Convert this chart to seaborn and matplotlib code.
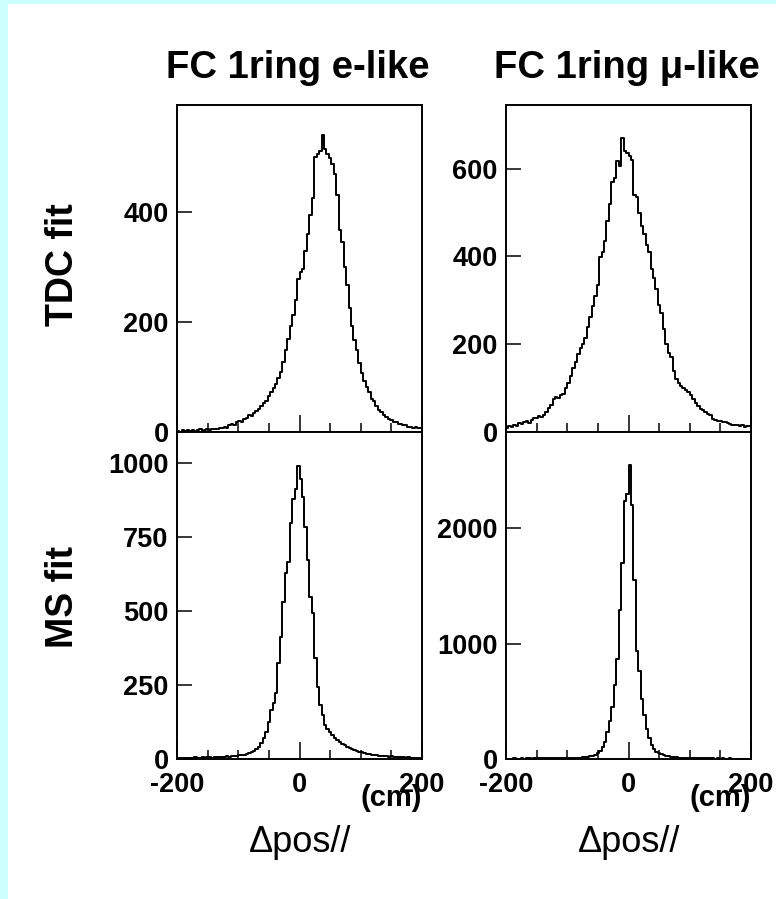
import numpy as np
import pandas as pd
import seaborn as sns
import matplotlib
matplotlib.use("Agg")
import matplotlib.pyplot as plt
from matplotlib.ticker import MultipleLocator, FixedLocator
from matplotlib.patches import Rectangle

# ---------------- data (100 bins of 4 cm, -200..200) ----------------
bin_edges = list(range(-200, 201, 4))
bin_centers = list(range(-198, 199, 4))

tdc_e = [2, 0, 3, 2, 4, 1, 3, 2, 3, 5,
         2, 4, 5, 4, 5, 6, 5, 8, 7, 9,
         8, 12, 14, 13, 18, 20, 19, 24, 26, 31,
         30, 35, 38, 42, 47, 52, 57, 66, 72, 80,
         88, 98, 110, 128, 150, 170, 192, 212, 240, 278,
         292, 296, 330, 360, 395, 425, 500, 505, 512, 540,
         515, 505, 498, 488, 470, 432, 368, 345, 300, 268,
         225, 193, 168, 150, 126, 108, 92, 82, 72, 60,
         56, 48, 40, 36, 31, 28, 24, 21, 19, 18,
         15, 14, 12, 13, 10, 9, 8, 10, 7, 8]

tdc_mu = [10, 14, 12, 16, 13, 20, 18, 22, 24, 21,
          28, 31, 33, 36, 34, 38, 45, 55, 62, 75,
          80, 78, 84, 86, 100, 112, 128, 145, 160, 178,
          192, 200, 215, 240, 262, 288, 310, 335, 398, 410,
          436, 480, 520, 570, 578, 618, 605, 670, 640, 635,
          628, 620, 540, 535, 500, 470, 450, 425, 410, 372,
          350, 325, 290, 270, 235, 200, 180, 170, 140, 120,
          112, 105, 100, 95, 90, 85, 75, 66, 60, 52,
          50, 45, 42, 38, 30, 27, 25, 24, 22, 23,
          20, 18, 16, 17, 15, 14, 16, 12, 13, 14]

ms_e = [4, 3, 5, 4, 3, 5, 4, 6, 5, 4,
        6, 5, 7, 6, 5, 7, 6, 8, 7, 8,
        9, 8, 10, 9, 11,
        12, 13, 15, 17, 20, 24, 28, 34, 42, 55,
        72, 92, 125, 165, 188, 222, 323, 413, 531, 627,
        667, 796, 880, 914, 990, 945, 886, 785, 672, 548,
        492, 340, 244, 182, 150, 115, 100, 90, 80, 72,
        65, 58, 52, 46, 42, 38, 33, 30, 27, 24,
        22, 20, 18, 16, 15, 14, 12, 11, 10, 10,
        9, 8, 9, 7, 8, 6, 7, 6, 5, 6,
        5, 4, 5, 4, 5]

ms_mu = [3, 4, 3, 5, 4, 3, 5, 4, 6, 5,
         4, 6, 5, 7, 6, 5, 7, 6, 8, 7,
         8, 7, 9, 8, 10,
         9, 11, 10, 12, 11, 13, 15, 17, 20, 24,
         30, 38, 50, 70, 100, 150, 235, 330, 450, 640,
         870, 1290, 1700, 2240, 2300, 2548, 2200, 1550, 940, 765,
         520, 380, 260, 180, 120, 85, 62, 48, 40, 34,
         28, 24, 20, 18, 15, 13, 12, 10, 11, 9,
         8, 9, 7, 8, 6, 7, 6, 5, 6, 5,
         4, 5, 4, 5, 3, 4, 5, 3, 4, 3,
         4, 3, 4, 3, 4]

col_titles = ["FC 1ring e-like", "FC 1ring \u03bc-like"]
row_titles = ["TDC fit", "MS fit"]
x_ticks = [-200, 0, 200]
y_ticks = {(0, 0): [0, 200, 400], (0, 1): [0, 200, 400, 600],
           (1, 0): [0, 250, 500, 750, 1000], (1, 1): [0, 1000, 2000]}
y_lims = {(0, 0): 595, (0, 1): 745, (1, 0): 1105, (1, 1): 2835}
series = {(0, 0): tdc_e, (0, 1): tdc_mu, (1, 0): ms_e, (1, 1): ms_mu}
x_label = "\u0394pos//"
x_unit = "(cm)"

# ---------------- figure ----------------
sns.set_style("white")
plt.rcParams['font.family'] = ['Liberation Sans', 'DejaVu Sans']
plt.rcParams['axes.unicode_minus'] = False
plt.rcParams['text.color'] = 'black'
plt.rcParams['xtick.color'] = 'black'
plt.rcParams['ytick.color'] = 'black'
plt.rcParams['axes.labelcolor'] = 'black'

W, H = 776, 899
fig = plt.figure(figsize=(W / 100, H / 100), dpi=100)
fig.patch.set_facecolor("white")

# cyan frame (left and top)
fig.patches.append(Rectangle((0, 0), 8 / W, 1, transform=fig.transFigure,
                             facecolor="#ccffff", edgecolor="none", zorder=0))
fig.patches.append(Rectangle((0, 1 - 4 / H), 1, 4 / H, transform=fig.transFigure,
                             facecolor="#ccffff", edgecolor="none", zorder=0))

ax_left = [177, 506]
ax_top = [105, 432]
ax_w, ax_h = 245, 327
tick_fs = 19.5

for r in range(2):
    for c in range(2):
        ax = fig.add_axes([ax_left[c] / W, 1 - (ax_top[r] + ax_h) / H, ax_w / W, ax_h / H])
        df = pd.DataFrame({"x": bin_centers, "w": series[(r, c)]})
        sns.histplot(data=df, x="x", weights="w", bins=bin_edges, element="step",
                     fill=False, color="black", linewidth=1.4, ax=ax)
        ax.set_xlim(-200, 200)
        ax.set_ylim(0, y_lims[(r, c)])
        ax.set_xlabel("")
        ax.set_ylabel("")
        ax.xaxis.set_major_locator(FixedLocator(x_ticks))
        ax.xaxis.set_minor_locator(MultipleLocator(50))
        ax.yaxis.set_major_locator(FixedLocator(y_ticks[(r, c)]))
        ax.tick_params(axis="x", which="major", direction="in", length=12, width=1.1,
                       pad=9, labelsize=tick_fs, bottom=True, top=False,
                       colors="black")
        ax.tick_params(axis="x", which="minor", direction="in", length=6.5, width=1.1,
                       bottom=True, top=False, colors="black")
        ax.tick_params(axis="y", which="major", direction="in", length=11, width=1.1,
                       pad=6, labelsize=tick_fs, left=True, right=False,
                       colors="black")
        for lab in ax.get_xticklabels() + ax.get_yticklabels():
            lab.set_fontweight("bold")
        if r == 0:
            ax.tick_params(axis="x", labelbottom=False)
        for s in ax.spines.values():
            s.set_linewidth(1.4)
            s.set_color("black")
        ax.set_facecolor("white")

def ftext(x, y, s, **kw):
    fig.text(x / W, 1 - y / H, s, ha="center", va="center", color="black", **kw)

for c in range(2):
    cx = ax_left[c] + ax_w / 2
    ftext(cx - 2, 68, col_titles[c], fontsize=27.5, fontweight="bold")
    ftext(cx + 1, 843, x_label, fontsize=26)
    ftext(ax_left[c] + 214, 798, x_unit, fontsize=21, fontweight="bold")

ftext(63, 265, row_titles[0], fontsize=27, fontweight="bold", rotation=90)
ftext(63, 597, row_titles[1], fontsize=27, fontweight="bold", rotation=90)

fig.savefig("out.png", dpi=100, facecolor="white")
